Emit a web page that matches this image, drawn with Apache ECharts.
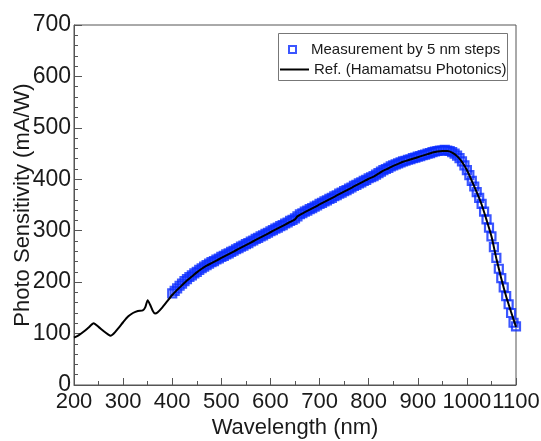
<!DOCTYPE html>
<html>
<head>
<meta charset="utf-8">
<title>Photo Sensitivity</title>
<script src="https://cdn.jsdelivr.net/npm/echarts@6/dist/echarts.min.js"></script>
<style>
	html,body{margin:0;padding:0;background:#fff;}
	#chart{width:541px;height:441px;}
</style>
</head>
<body>
<div id="chart"></div>
<script>
	//参考曲线 (Hamamatsu)
	var refWavelength = [200,210,220,230,240,250,260,270,275,280,290,300,310,320,330,340,345,350,355,360,365,370,380,390,
		400,410,420,430,440,450,460,470,480,490,500,510,520,530,540,550,560,570,580,590,600,610,620,630,640,650,655,660,
		670,680,690,700,710,720,730,740,750,760,770,780,790,800,810,820,830,840,850,860,870,880,890,900,910,920,930,940,
		950,960,970,980,990,1000,1010,1020,1030,1040,1050,1060,1070,1080,1090,1100];
	var refSensitivity = [92,97,104,112,120,113,105,98,96,99,110,122,133,140,144,145,151,165,156,145,139,141,151,163,
		175,185,194,203,211,219,226,232,237,242,247,252,257,262,267,272,277,282,287,292,297,302,307,312,317,322,328,331,
		336,341,346,351,356,361,366,371,376,381,386,391,396,401,405,411,417,421,426,430,434,437,440,443,446,449,452,454,
		455,455,452,445,434,418,397,375,351,321,289,246,207,172,142,113];

	//测量值 5nm 步进
	var measWavelength = [400,405,410,415,420,425,430,435,440,445,450,455,460,465,470,475,480,485,490,495,
		500,505,510,515,520,525,530,535,540,545,550,555,560,565,570,575,580,585,590,595,
		600,605,610,615,620,625,630,635,640,645,650,655,660,665,670,675,680,685,690,695,
		700,705,710,715,720,725,730,735,740,745,750,755,760,765,770,775,780,785,790,795,
		800,805,810,815,820,825,830,835,840,845,850,855,860,865,870,875,880,885,890,895,
		900,905,910,915,920,925,930,935,940,945,950,955,960,965,970,975,980,985,990,995,
		1000,1005,1010,1015,1020,1025,1030,1035,1040,1045,1050,1055,1060,1065,1070,1075,1080,1085,1090,1095,1100];
	var measSensitivity = [178,183,188,193,197,202,206,210,213,217,220,224,227,230,233,236,239,241,244,246,
		249,251,254,256,259,261,264,266,269,271,274,276,279,281,284,286,289,291,294,296,
		299,301,304,306,309,311,314,316,319,321,324,328,332,334,337,339,342,344,347,349,
		352,354,357,359,362,364,367,369,372,374,377,379,382,384,387,389,392,394,397,399,
		402,404,406,409,412,415,418,420,422,425,427,429,431,433,435,436,438,439,441,442,
		444,445,447,448,450,451,453,454,455,456,456,457,456,455,453,450,446,441,435,427,
		418,408,397,386,375,364,352,337,322,306,289,268,247,226,208,190,173,157,140,121,114];

	var measName = 'Measurement by 5 nm steps';
	var refName = 'Ref. (Hamamatsu Photonics)';
	var blue = '#0a2cff';
	var font = 'Liberation Sans, Arial, Helvetica, sans-serif';

	var refData = [];
	for (var i = 0; i < refWavelength.length; i++) {
		refData.push([refWavelength[i], refSensitivity[i]]);
	}
	var measData = [];
	for (var j = 0; j < measWavelength.length; j++) {
		measData.push([measWavelength[j], measSensitivity[j]]);
	}

	var chart = echarts.init(document.getElementById('chart'));
	var option = {
		animation: false,
		backgroundColor: '#fff',
		textStyle: { fontFamily: font },
		grid: {
			left: 74, right: 25, top: 25, bottom: 56,
			containLabel: false, outerBoundsMode: 'none',
			show: true, borderColor: '#555', borderWidth: 1
		},
		xAxis: {
			type: 'value', min: 200, max: 1100, interval: 100,
			name: 'Wavelength (nm)', nameLocation: 'middle', nameGap: 32, nameMoveOverlap: false,
			nameTextStyle: { fontSize: 22, color: '#1a1a1a', fontFamily: font },
			axisLine: { lineStyle: { color: '#555', width: 1 } },
			axisTick: { inside: true, length: 7, lineStyle: { color: '#555' } },
			minorTick: { show: true, splitNumber: 2, length: 4, lineStyle: { color: '#555' } },
			splitLine: { show: false },
			axisLabel: {
				fontSize: 22, color: '#1a1a1a', margin: 6, fontFamily: font,
				showMinLabel: true, showMaxLabel: true, hideOverlap: false,
				formatter: function (v) { return String(v); }
			}
		},
		yAxis: {
			type: 'value', min: 0, max: 700, interval: 100,
			name: 'Photo Sensitivity (mA/W)', nameLocation: 'middle', nameGap: 40, nameRotate: 90,
			nameMoveOverlap: false,
			nameTextStyle: { fontSize: 22, color: '#1a1a1a', fontFamily: font },
			axisLine: { show: true, lineStyle: { color: '#555', width: 1 } },
			axisTick: { inside: true, length: 8, lineStyle: { color: '#555' } },
			minorTick: { show: true, splitNumber: 5, length: 4, lineStyle: { color: '#555' } },
			splitLine: { show: false },
			axisLabel: {
				fontSize: 23, color: '#1a1a1a', margin: 3, fontFamily: font,
				showMinLabel: true, showMaxLabel: true
			}
		},
		//图例框
		graphic: [{
			type: 'rect', left: 278, top: 33, z: 0,
			shape: { width: 229, height: 47 },
			style: { fill: '#fff', stroke: '#777', lineWidth: 1 }
		}],
		legend: [{
			data: [{ name: measName, icon: 'rect', itemStyle: { color: '#fff', borderColor: blue, borderWidth: 2 } }],
			left: 288, top: 42, padding: 0,
			itemWidth: 7, itemHeight: 7,
			textStyle: { fontSize: 15, color: '#1a1a1a', fontFamily: font, padding: [0, 0, 0, 10] }
		}, {
			data: [{ name: refName, icon: 'rect', itemStyle: { color: '#000' } }],
			left: 280, top: 62, padding: 0,
			itemWidth: 29, itemHeight: 2,
			textStyle: { fontSize: 15, color: '#1a1a1a', fontFamily: font }
		}],
		series: [{
			name: measName, type: 'scatter', z: 2,
			symbol: 'rect', symbolSize: 8,
			itemStyle: { color: 'rgba(255,255,255,0)', borderColor: blue, borderWidth: 2.2 },
			data: measData
		}, {
			name: refName, type: 'line', z: 3,
			showSymbol: false, smooth: 0.2,
			lineStyle: { color: '#000', width: 2 },
			data: refData
		}]
	};
	chart.setOption(option);
</script>
</body>
</html>
